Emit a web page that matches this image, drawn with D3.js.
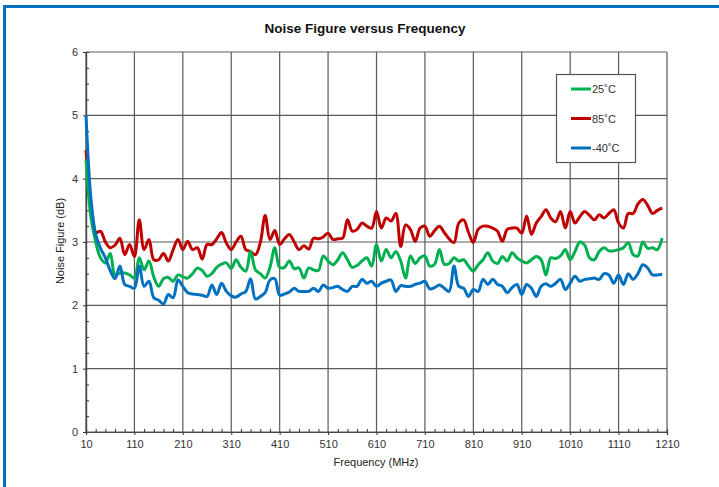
<!DOCTYPE html>
<html>
<head>
<meta charset="utf-8">
<script src="https://cdn.jsdelivr.net/npm/d3@7"></script>
<style>
  body { margin: 0; background: #fff; }
  svg { display: block; font-family: Arial, "Liberation Sans", sans-serif; }
</style>
</head>
<body>
<svg id="chart" width="719" height="487"></svg>
<script>
// frequency grid, MHz
var freq = d3.range(10, 1201, 10);

var nf25 = [4.3, 3.4, 3.0, 2.75, 2.67, 2.82, 2.48, 2.51, 2.51, 2.48,
  2.43, 2.75, 2.56, 2.70, 2.45, 2.30, 2.42, 2.44, 2.38, 2.48,
  2.45, 2.43, 2.5, 2.59, 2.55, 2.46, 2.5, 2.6, 2.65, 2.67,
  2.58, 2.72, 2.6, 2.54, 2.85, 2.56, 2.5, 2.43, 2.6, 2.91,
  2.6, 2.6, 2.7, 2.58, 2.59, 2.43, 2.59, 2.56, 2.55, 2.78,
  2.7, 2.64, 2.72, 2.83, 2.72, 2.6, 2.63, 2.7, 2.75, 2.62,
  2.96, 2.70, 2.88, 2.75, 2.85, 2.7, 2.43, 2.78, 2.66, 2.75,
  2.78, 2.62, 2.65, 2.88, 2.65, 2.66, 2.75, 2.7, 2.72, 2.62,
  2.54, 2.64, 2.72, 2.83, 2.7, 2.66, 2.77, 2.7, 2.83, 2.75,
  2.7, 2.67, 2.72, 2.77, 2.72, 2.48, 2.75, 2.74, 2.78, 2.88,
  2.72, 2.85, 3.0, 2.95, 2.75, 2.72, 2.85, 2.91, 2.86, 2.86,
  2.88, 2.91, 2.99, 2.8, 2.78, 3.0, 2.9, 2.91, 2.88, 3.06];

var nf85 = [4.45, 3.6, 3.15, 3.17, 3.0, 2.91, 2.95, 3.06, 2.8, 2.96,
  2.77, 3.35, 2.88, 3.04, 2.72, 2.72, 2.82, 2.70, 2.88, 3.04,
  2.88, 3.01, 2.88, 2.91, 2.73, 2.96, 2.96, 3.05, 3.15, 2.98,
  2.88, 3.0, 3.09, 2.88, 2.85, 2.80, 2.99, 3.42, 3.04, 3.18,
  2.96, 3.05, 3.12, 3.0, 2.88, 2.94, 2.89, 3.06, 3.05, 3.08,
  3.14, 3.04, 3.05, 3.06, 3.35, 3.17, 3.2, 3.3, 3.25, 3.22,
  3.48, 3.22, 3.38, 3.33, 3.45, 2.93, 3.27, 3.2, 3.01, 3.22,
  3.25, 3.09, 3.18, 3.25, 3.15, 3.05, 2.99, 3.3, 3.35, 3.15,
  2.99, 3.2, 3.25, 3.25, 3.22, 3.17, 3.01, 3.2, 3.22, 3.22,
  3.14, 3.41, 3.12, 3.3, 3.4, 3.51, 3.38, 3.32, 3.48, 3.22,
  3.48, 3.3, 3.4, 3.48, 3.42, 3.35, 3.43, 3.38, 3.45, 3.51,
  3.3, 3.22, 3.45, 3.45, 3.6, 3.67, 3.58, 3.45, 3.5, 3.54];

var nfm40 = [5.0, 3.7, 3.12, 2.9, 2.75, 2.55, 2.42, 2.62, 2.33, 2.3,
  2.27, 2.62, 2.3, 2.38, 2.12, 2.08, 2.02, 2.17, 2.12, 2.4,
  2.3, 2.2, 2.18, 2.17, 2.16, 2.14, 2.32, 2.17, 2.35, 2.22,
  2.15, 2.13, 2.18, 2.22, 2.42, 2.1, 2.14, 2.2, 2.4, 2.42,
  2.16, 2.18, 2.21, 2.27, 2.22, 2.22, 2.22, 2.27, 2.22, 2.32,
  2.27, 2.28, 2.3, 2.25, 2.22, 2.3, 2.3, 2.41, 2.35, 2.38,
  2.3, 2.35, 2.38, 2.4, 2.22, 2.31, 2.3, 2.3, 2.33, 2.35,
  2.38, 2.26, 2.28, 2.32, 2.27, 2.22, 2.62, 2.3, 2.27, 2.14,
  2.25, 2.22, 2.41, 2.33, 2.41, 2.33, 2.3, 2.2, 2.28, 2.33,
  2.17, 2.33, 2.27, 2.14, 2.3, 2.34, 2.3, 2.35, 2.41, 2.25,
  2.35, 2.46, 2.38, 2.41, 2.42, 2.43, 2.41, 2.5, 2.48, 2.35,
  2.48, 2.33, 2.5, 2.41, 2.5, 2.64, 2.59, 2.48, 2.48, 2.49];

var seriesNames = ["25\u02DAC", "85\u02DAC", "-40\u02DAC"];
var seriesColors = ["#00B050", "#C00000", "#0070C0"];
var xTicks = d3.range(10, 1211, 100);
var yTicks = d3.range(0, 7, 1);

var svg = d3.select("#chart");

// blue page frame
svg.append("rect")
    .attr("x", 4.5).attr("y", 6.5)
    .attr("width", 760).attr("height", 520)
    .attr("fill", "none")
    .attr("stroke", "#0070C0")
    .attr("stroke-width", 3);

var x = d3.scaleLinear().domain([10, 1210]).range([86, 667]);
var y = d3.scaleLinear().domain([0, 6]).range([432, 52]);

var grid = svg.append("g").attr("stroke", "#5a5a5a").attr("stroke-width", 1.2);
grid.selectAll(".vg").data(xTicks).enter().append("line")
    .attr("x1", function(d) { return x(d); }).attr("x2", function(d) { return x(d); })
    .attr("y1", y(0)).attr("y2", y(6));
grid.selectAll(".hg").data(yTicks).enter().append("line")
    .attr("x1", x(10)).attr("x2", x(1210))
    .attr("y1", function(d) { return y(d); }).attr("y2", function(d) { return y(d); });

// axes: major ticks outside, minor ticks inside
var xAxis = d3.axisBottom(x).tickValues(xTicks).tickFormat(d3.format("d")).tickSize(3).tickPadding(5);
var xMinor = d3.axisTop(x).tickValues(d3.range(10, 1210, 20).filter(function(d) { return (d - 10) % 100 != 0; }))
    .tickSize(3).tickFormat("");
var yAxis = d3.axisLeft(y).tickValues(yTicks).tickFormat(d3.format("d")).tickSize(3).tickPadding(5);
var yMinor = d3.axisRight(y).tickValues(d3.range(0, 6, 0.25).filter(function(d) { return d % 1 != 0; }))
    .tickSize(3).tickFormat("");

svg.append("g").attr("transform", "translate(0," + y(0) + ")").call(xAxis);
svg.append("g").attr("transform", "translate(0," + y(0) + ")").call(xMinor);
svg.append("g").attr("transform", "translate(" + x(10) + ",0)").call(yAxis);
svg.append("g").attr("transform", "translate(" + x(10) + ",0)").call(yMinor);

svg.selectAll(".domain").attr("stroke", "#444").attr("stroke-width", 1.2);
svg.selectAll(".tick line").attr("stroke", "#333");
svg.selectAll(".tick text").attr("font-size", 11).attr("fill", "#333")
    .attr("font-family", "Arial, Liberation Sans, sans-serif");

// curves
var data = [nf25, nf85, nfm40];
var line = d3.line()
    .x(function(d, i) { return x(freq[i]); })
    .y(function(d) { return y(d); })
    .curve(d3.curveCatmullRom.alpha(0.5));

svg.append("g").selectAll("path")
    .data([nf85, nf25, nfm40])
    .enter().append("path")
    .attr("d", line)
    .attr("fill", "none")
    .attr("stroke", function(d) { return seriesColors[data.indexOf(d)]; })
    .attr("stroke-width", 3)
    .attr("stroke-linejoin", "round");

// title and axis labels
svg.append("text").attr("x", 365).attr("y", 33)
    .attr("text-anchor", "middle").attr("font-size", 13.5).attr("font-weight", "bold")
    .attr("fill", "#111").text("Noise Figure versus Frequency");
svg.append("text").attr("x", 376).attr("y", 466)
    .attr("text-anchor", "middle").attr("font-size", 11).attr("fill", "#222")
    .text("Frequency (MHz)");
svg.append("text").attr("transform", "translate(64,241) rotate(-90)")
    .attr("text-anchor", "middle").attr("font-size", 11).attr("fill", "#222")
    .text("Noise Figure (dB)");

// legend
var lg = svg.append("g").attr("transform", "translate(556,74)");
lg.append("rect").attr("x", 0.5).attr("y", 0.5).attr("width", 79).attr("height", 88)
    .attr("fill", "#fff").attr("stroke", "#555").attr("stroke-width", 1.2);
var items = lg.selectAll(".item").data(seriesNames).enter().append("g")
    .attr("transform", function(d, i) { return "translate(0," + (15 + i * 29.5) + ")"; });
items.append("line").attr("x1", 15).attr("x2", 35).attr("y1", 0).attr("y2", 0)
    .attr("stroke", function(d, i) { return seriesColors[i]; }).attr("stroke-width", 3);
items.append("text").attr("x", 36).attr("y", 4).attr("font-size", 11).attr("fill", "#333")
    .text(function(d) { return d; });
</script>
</body>
</html>
